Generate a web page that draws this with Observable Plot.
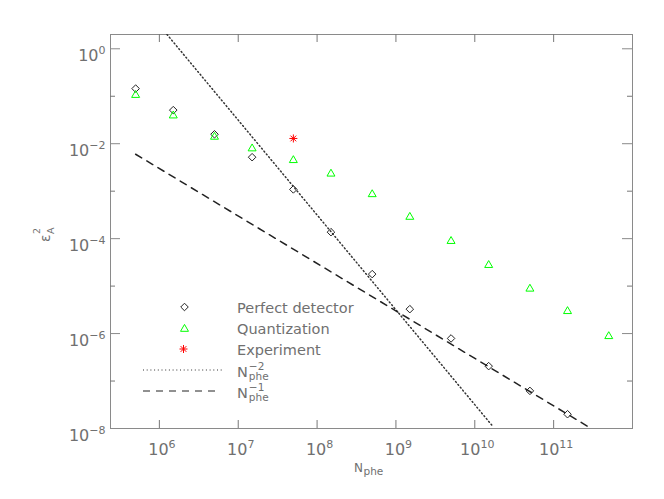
<!DOCTYPE html>
<html><head><meta charset="utf-8">
<script src="https://cdn.jsdelivr.net/npm/d3@7"></script>
<script src="https://cdn.jsdelivr.net/npm/@observablehq/plot@0.6"></script>
<style>html,body{margin:0;padding:0;background:#fff;} svg{display:block;}</style>
</head><body><div id="chart"></div>
<script>
// ---- data ----
const nPhe = [5e5, 1.5e6, 5e6, 1.5e7, 5e7, 1.5e8, 5e8, 1.5e9, 5e9, 1.5e10, 5e10, 1.5e11, 5e11];
const perfectDetector = [0.145, 0.051, 0.0158, 0.0052, 0.00109, 1.37e-4, 1.79e-5, 3.27e-6, 7.9e-7, 2.06e-7, 6.2e-8, 2.0e-8];
const quantization = [0.111, 0.041, 0.0146, 0.0083, 0.0047, 0.00244, 9.0e-4, 3.0e-4, 9.3e-5, 2.9e-5, 9.2e-6, 3.1e-6, 9.2e-7];
const experimentN = [5e7];
const experiment = [0.0129];
const invSquareN = [1.25e6, 1.7e10];
const invSquareE = [2.0, 1.1e-8];
const invLinearN = [5e5, 3e11];
const invLinearE = [6.0e-3, 1.0e-8];
const xTickValues = [1e6, 1e7, 1e8, 1e9, 1e10, 1e11];
const yLabelTicks = [1, 1e-2, 1e-4, 1e-6, 1e-8];
const yMinorTicks = [1e-1, 1e-3, 1e-5, 1e-7];
const legendLabels = ["Perfect detector", "Quantization", "Experiment", "N", "N"];
const legendSup = [null, null, null, "−2", "−1"];
const legendSub = [null, null, null, "phe", "phe"];
const xTitle = "N", xTitleSub = "phe";
const yTitle = "ε", yTitleSub = "A", yTitleSup = "2";

// ---- tables ----
const perfect = perfectDetector.map((e, i) => ({n: nPhe[i], e}));
const quant = quantization.map((e, i) => ({n: nPhe[i], e}));
const expData = experiment.map((e, i) => ({n: experimentN[i], e}));
const slope2 = invSquareE.map((e, i) => ({n: invSquareN[i], e}));
const slope1 = invLinearE.map((e, i) => ({n: invLinearN[i], e}));

const W = 664, H = 499, ML = 110, MR = 32, MT = 34, MB = 71;
const PW = W - ML - MR, PH = H - MT - MB;
const textGrey = "#707070", frameGrey = "#8a8a8a";
const FONT = "'DejaVu Sans', sans-serif";
const fmt = d => "10^" + Math.round(Math.log10(d));

const chart = Plot.plot({
  width: W, height: H,
  marginLeft: ML, marginRight: MR, marginTop: MT, marginBottom: MB,
  style: {fontFamily: FONT, background: "#fff", color: textGrey, overflow: "visible"},
  x: {type: "log", domain: [2.4e5, 1e12]},
  y: {type: "log", domain: [1e-8, 2]},
  marks: [
    Plot.frame({stroke: frameGrey}),
    Plot.tickY(yLabelTicks, {y: d => d, insetRight: PW - 10, stroke: frameGrey}),
    Plot.tickY(yLabelTicks, {y: d => d, insetLeft: PW - 10, stroke: frameGrey}),
    Plot.tickY(yMinorTicks, {y: d => d, insetRight: PW - 5, stroke: "#777"}),
    Plot.tickY(yMinorTicks, {y: d => d, insetLeft: PW - 5, stroke: "#777"}),
    Plot.tickX(xTickValues, {x: d => d, insetTop: PH - 8, stroke: "#777"}),
    Plot.tickX(xTickValues, {x: d => d, insetBottom: PH - 8, stroke: "#777"}),
    Plot.axisY({ticks: yLabelTicks, tickSize: 0, tickPadding: 5, fontSize: 16, label: null, tickFormat: fmt, fill: textGrey}),
    Plot.axisX({ticks: xTickValues, tickSize: 0, tickPadding: 15, fontSize: 16, label: null, tickFormat: fmt, fill: textGrey}),
    Plot.line(slope2, {x: "n", y: "e", stroke: "#333", strokeDasharray: "1,2.7", clip: true}),
    Plot.line(slope1, {x: "n", y: "e", stroke: "#222", strokeDasharray: "7,6", clip: true}),
    Plot.dot(perfect, {x: "n", y: "e", symbol: "diamond2", r: 3.4, stroke: "#222", strokeWidth: 1}),
    Plot.dot(quant, {x: "n", y: "e", symbol: "triangle2", r: 3.8, stroke: "#00ff00", strokeWidth: 1, dy: 1}),
    Plot.dot(expData, {x: "n", y: "e", symbol: "plus", r: 2.7, stroke: "#ff0000", strokeWidth: 1}),
    Plot.dot(expData, {x: "n", y: "e", symbol: "times", r: 2.7, stroke: "#ff0000", strokeWidth: 1})
  ]
});
document.getElementById("chart").append(chart);

const NS = "http://www.w3.org/2000/svg";
const svg = d3.select(chart);

// superscript exponents in tick labels
svg.selectAll('g[aria-label="y-axis tick label"] text, g[aria-label="x-axis tick label"] text').each(function() {
  const parts = this.textContent.split("^");
  if (parts.length < 2) return;
  this.textContent = parts[0];
  const ts = document.createElementNS(NS, "tspan");
  ts.setAttribute("dy", "-7");
  ts.setAttribute("font-size", "11");
  ts.textContent = parts[1].replace("-", "−");
  this.appendChild(ts);
});
svg.selectAll('g[aria-label="y-axis tick label"] text').attr("dy", "0.47em");
svg.selectAll('g[aria-label="x-axis tick label"] text').attr("dx", "2.5");

function addText(g, x, y, size, str) {
  return g.append("text").attr("x", x).attr("y", y).attr("font-size", size)
    .attr("fill", textGrey).attr("font-family", FONT).attr("text-anchor", "start").text(str);
}
// text with subscript / superscript stacked after a base
function scriptText(g, x, y, base, baseSize, sub, sup, subSize, subDy, supDy, gap) {
  const b = addText(g, x, y, baseSize, base);
  const w = b.node().getComputedTextLength();
  if (sub) addText(g, x + w + gap, y + subDy, subSize, sub);
  if (sup) addText(g, x + w + gap, y + supDy, subSize, sup);
}

// legend
const leg = svg.append("g").attr("aria-label", "legend");
const rowY = legendLabels.map((_, i) => 307 + 21 * i);
const mx = 184.5, tx = 237;
leg.append("path").attr("transform", `translate(${mx},${rowY[0]})`)
  .attr("d", d3.symbol(d3.symbolDiamond2, Math.PI * 3.4 * 3.4)()).attr("fill", "none").attr("stroke", "#222");
leg.append("path").attr("transform", `translate(${mx},${rowY[1] + 1})`)
  .attr("d", d3.symbol(d3.symbolTriangle2, Math.PI * 3.8 * 3.8)()).attr("fill", "none").attr("stroke", "#00ff00");
leg.append("path").attr("transform", `translate(${mx - 1},${rowY[2]})`)
  .attr("d", d3.symbol(d3.symbolPlus, Math.PI * 2.7 * 2.7)()).attr("fill", "none").attr("stroke", "#ff0000");
leg.append("path").attr("transform", `translate(${mx - 1},${rowY[2]})`)
  .attr("d", d3.symbol(d3.symbolTimes, Math.PI * 2.7 * 2.7)()).attr("fill", "none").attr("stroke", "#ff0000");
leg.append("line").attr("x1", 143).attr("x2", 224).attr("y1", rowY[3]).attr("y2", rowY[3])
  .attr("stroke", "#333").attr("stroke-dasharray", "1,2.7");
leg.append("line").attr("x1", 143).attr("x2", 217).attr("y1", rowY[4]).attr("y2", rowY[4])
  .attr("stroke", "#222").attr("stroke-dasharray", "7,6");
legendLabels.forEach((lab, i) => {
  if (legendSup[i] || legendSub[i]) {
    scriptText(leg, tx, rowY[i] + 6.5, lab, 14.5, legendSub[i], legendSup[i], 10.5, 3, -6.5, 1);
  } else {
    addText(leg, tx, rowY[i] + 5.5, 14.5, lab);
  }
});

// x title
scriptText(svg.append("g"), 354, 471.5, xTitle, 12, xTitleSub, null, 10.5, 3.5, 0, 0.5);

// y title (rotated)
const yg = svg.append("g").attr("transform", "translate(50,242) rotate(-90)");
scriptText(yg, 0, 0, yTitle, 14, yTitleSub, yTitleSup, 9.5, 3.5, -10, 0.5);
</script>
</body></html>
